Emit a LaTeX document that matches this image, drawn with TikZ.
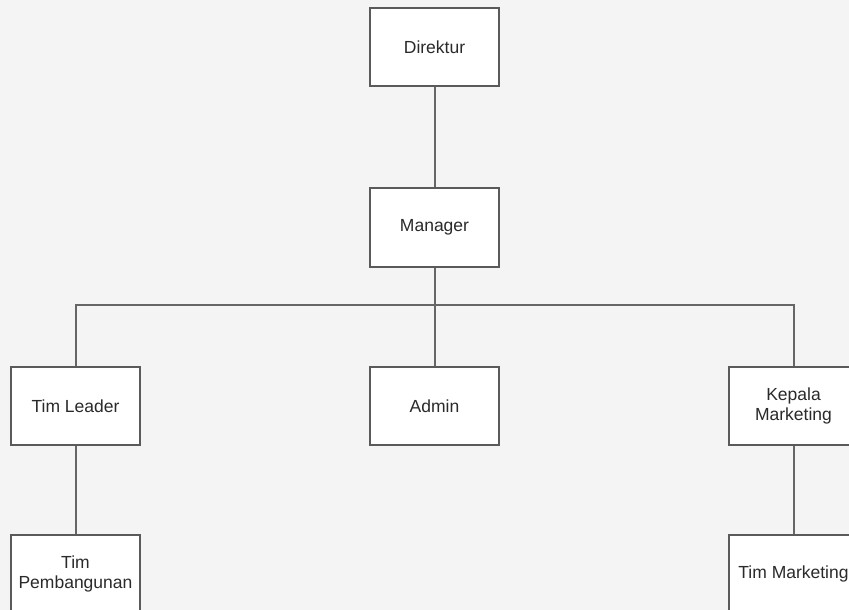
\documentclass[tikz,border=0pt]{standalone}
\usepackage{fontspec}
\setmainfont{Liberation Sans}
\usetikzlibrary{backgrounds}
\definecolor{bgc}{HTML}{F4F4F4}
\definecolor{boxline}{HTML}{5A5A5A}
\definecolor{conn}{HTML}{666666}
\definecolor{txt}{HTML}{2A2A2A}
\begin{document}
\begin{tikzpicture}[x=1bp,y=-1bp,
  orgbox/.style={draw=boxline, line width=2bp, fill=white, rectangle,
    minimum width=129bp, minimum height=78bp, inner sep=0pt, align=center,
    text=txt, font=\fontsize{17.5bp}{20bp}\selectfont},
  link/.style={draw=conn, line width=2bp}]
\useasboundingbox (0,0) rectangle (849,610);
\clip (0,0) rectangle (849,610);
\node[orgbox] (dir) at (434.5,47) {Direktur};
\node[orgbox] (mgr) at (434.5,227.5) {Manager};
\node[orgbox] (tl) at (75.5,406) {Tim Leader};
\node[orgbox] (adm) at (434.5,406) {Admin};
\node[orgbox] (km) at (793.5,406) {Kepala\\Marketing};
\node[orgbox] (tp) at (75.5,574) {Tim\\Pembangunan};
\node[orgbox] (tm) at (793.5,574) {Tim Marketing};
\coordinate (bus) at (434.5,305);
\begin{scope}[on background layer]
\fill[bgc] (0,0) rectangle (849,610);
\draw[link] (dir.south) -- (mgr.north);
\draw[link] (mgr.south) -- (bus);
\draw[link] (bus) -- (adm.north);
\draw[link] (bus) -| (tl.north);
\draw[link] (bus) -| (km.north);
\draw[link] (tl.south) -- (tp.north);
\draw[link] (km.south) -- (tm.north);
\end{scope}
\end{tikzpicture}
\end{document}
